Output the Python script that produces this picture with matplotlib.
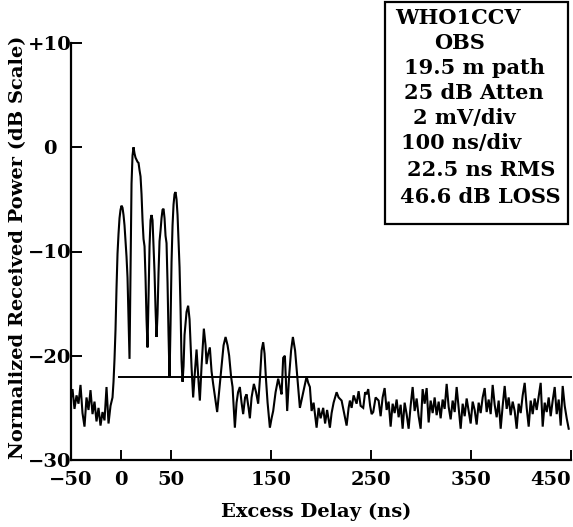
import matplotlib
matplotlib.use("Agg")
import matplotlib.pyplot as plt
from matplotlib.patches import Rectangle

plt.rcParams['font.family'] = ['DejaVu Serif']
plt.rcParams['font.weight'] = 'bold'

# Received power profile (excess delay in ns, normalized power in dB)
pre_delay = [-50, -48, -46, -44, -42, -40, -38, -36, -34, -32, -30, -28, -26,
             -24, -22, -20, -18, -16, -14, -12, -10]
pre_power = [-24.3, -23.2, -25.1, -23.8, -24.6, -22.8, -25.5, -26.8, -24.0,
             -25.2, -23.3, -25.6, -24.4, -26.3, -25.0, -26.7, -25.4, -26.2,
             -23.0, -26.5, -24.8]

main_delay = [-8, -7, -6, -5, -4, -3, -2, -1, 0, 1, 2, 3, 4, 5, 6, 7, 8, 9, 10,
              11, 12, 13, 14, 15, 16, 17, 18, 19, 20, 21, 22, 23, 24, 25, 26,
              27, 28, 29, 30, 31, 32, 33, 34, 35, 36, 37, 38, 39, 40, 41, 42,
              43, 44, 45, 46, 47, 48, 49, 50, 51, 52, 53, 54, 55, 56, 57, 58,
              59, 60, 61, 62]
main_power = [-24.0, -22.5, -20.3, -17.5, -13.5, -10.2, -8.3, -6.8, -6.0, -5.6,
              -5.8, -6.5, -7.5, -9.0, -10.5, -12.5, -16.5, -20.3, -12.0, -3.5,
              -0.8, 0.0, -0.6, -1.0, -1.2, -1.4, -1.5, -2.2, -2.8, -4.5, -7.0,
              -8.8, -9.5, -12.5, -16.5, -19.2, -14.5, -9.5, -7.0, -6.5, -7.0,
              -9.5, -12.0, -15.5, -18.2, -16.0, -12.0, -9.0, -8.0, -6.8, -6.0,
              -5.9, -6.8, -8.5, -9.2, -13.0, -18.0, -22.1, -17.0, -11.0, -7.5,
              -5.5, -4.5, -4.3, -5.0, -6.5, -9.0, -11.5, -15.5, -20.5, -22.5]

tail_delay = [63, 64, 66, 67.6, 69, 71, 72.6, 74, 76, 78, 79.3, 81, 83.3, 85,
              86, 87.6, 89.3, 91, 92.6, 94.5, 96.6, 99, 101, 103, 105, 107,
              108.6, 110.5, 112, 114.3, 116, 117.5, 119.3, 121, 122.6, 124.5,
              126, 128, 129.3, 131, 133.3, 135.5, 137.6, 139.5, 141, 142.6, 144,
              145.3, 147, 149.3, 151, 152.6, 155, 157.6, 159.5, 161, 162.6,
              164.3, 166.6, 168.5, 170.5, 172.3, 174.5, 176.6, 179.3, 181.5,
              184.3, 186, 187.6, 189.3, 191, 193, 196, 198, 200, 202.6, 204.5,
              206.5, 209.3, 211, 213, 216, 218, 221, 223.5, 226, 228, 229.3,
              231, 233, 236, 238, 240, 242.6, 244.5, 246, 247.6, 249.5, 251,
              252.6, 255]
tail_power = [-21.0, -18.0, -15.8, -15.2, -16.5, -21.1, -24.0, -22.0, -19.4,
              -22.5, -24.3, -21.0, -17.4, -19.0, -20.8, -19.8, -19.2, -21.5,
              -22.7, -24.0, -25.4, -23.0, -21.1, -19.0, -18.2, -19.0, -20.0,
              -22.0, -23.0, -26.9, -24.5, -23.5, -23.0, -24.5, -25.6, -24.0,
              -23.7, -25.0, -26.0, -24.0, -22.7, -23.5, -24.6, -22.0, -19.5,
              -18.7, -19.8, -22.1, -24.5, -26.9, -26.0, -25.3, -23.5, -22.2,
              -23.0, -23.7, -20.2, -20.0, -25.3, -22.0, -19.5, -18.2, -19.5,
              -21.9, -25.0, -24.0, -22.7, -22.0, -22.6, -23.0, -25.3, -24.5,
              -26.9, -25.0, -26.0, -25.0, -26.5, -25.2, -26.9, -25.5, -24.5,
              -23.5, -24.0, -24.3, -25.5, -26.7, -25.0, -24.3, -25.0, -23.8,
              -24.6, -23.4, -24.8, -25.0, -23.5, -23.7, -23.2, -24.8, -25.6,
              -25.4, -24.0]

floor_delay = list(range(258, 450, 2))
floor_power = [-24.3, -25.8, -24.0, -23.1, -25.2, -24.4, -26.8, -24.6, -25.5,
               -24.2, -25.9, -24.7, -27.0, -24.5, -25.6, -27.0, -24.8, -23.0,
               -25.3, -24.1, -25.8, -27.0, -23.2, -24.6, -23.1, -26.4, -24.3,
               -25.5, -24.0, -25.7, -24.4, -26.0, -24.2, -25.1, -22.7, -24.9,
               -26.1, -24.3, -25.4, -23.0, -25.0, -27.0, -24.6, -25.8, -24.1,
               -25.3, -26.5, -24.4, -25.2, -26.6, -24.5, -25.5, -24.0, -23.1,
               -25.4, -24.2, -25.6, -22.8, -24.7, -25.9, -24.3, -27.0, -24.8,
               -22.9, -25.1, -24.0, -25.7, -24.4, -25.3, -27.0, -24.6, -25.5,
               -23.8, -22.6, -25.0, -26.8, -24.3, -25.6, -24.1, -25.2, -23.9,
               -22.6, -26.8, -24.5, -25.4, -24.0, -25.8, -24.3, -23.0, -25.6,
               -24.2, -26.7, -22.9, -24.8, -26.0, -27.0]

threshold_db = -22.0
threshold_span = (-2, 450)

xtick_values = [-50, 0, 50, 150, 250, 350, 450]
xtick_labels = ['\u221250', '0', '50', '150', '250', '350', '450']
ytick_values = [10, 0, -10, -20, -30]
ytick_labels = ['+10', '0', '\u221210', '\u221220', '\u221230']

info_lines = ['WHO1CCV', 'OBS', '19.5 m path', '25 dB Atten', '2 mV/div',
              '100 ns/div', '22.5 ns RMS', '46.6 dB LOSS']
info_x = [458, 460, 474, 474, 464, 461, 481, 480]
info_y = [18, 43, 68, 93, 118, 143, 170, 197]

delay = pre_delay + main_delay + tail_delay + floor_delay
power = pre_power + main_power + tail_power + floor_power

W, H = 573, 527
fig = plt.figure(figsize=(W / 100, H / 100), dpi=100)
ax = fig.add_axes([70.5 / W, 1 - 460 / H, (571.7 - 70.5) / W, (460 - 43) / H])

ax.plot(delay, power, color='black', lw=1.5, solid_joinstyle='miter')
ax.plot(threshold_span, [threshold_db, threshold_db], color='black', lw=1.4)

ax.set_xlim(-50, 451)
ax.set_ylim(-30, 10)
for side in ('top', 'right'):
    ax.spines[side].set_visible(False)
for side in ('left', 'bottom'):
    ax.spines[side].set_linewidth(1.6)
ax.spines['bottom'].set_bounds(-50, 450)

ax.set_xticks(xtick_values)
ax.set_xticklabels(xtick_labels)
ax.set_yticks(ytick_values)
ax.set_yticklabels(ytick_labels)
ax.tick_params(axis='both', direction='in', width=1.4, labelsize=14)
ax.tick_params(axis='y', length=8, pad=15)
ax.tick_params(axis='x', length=7, pad=8)
for lbl in ax.get_yticklabels():
    lbl.set_horizontalalignment('center')
ax.get_xticklabels()[-1].set_horizontalalignment('right')

fig.text(316.5 / W, 1 - 512 / H, 'Excess Delay (ns)', ha='center',
         va='center', fontsize=14, fontweight='bold')
fig.text(18 / W, 1 - 247 / H, 'Normalized Received Power (dB Scale)',
         ha='center', va='center', rotation=90, fontsize=14,
         fontweight='bold')

box = Rectangle((385 / W, 1 - 224 / H), (568 - 385) / W, (224 - 2) / H,
                transform=fig.transFigure, fill=False, ec='black', lw=1.6)
fig.add_artist(box)
for line, xc, yc in zip(info_lines, info_x, info_y):
    fig.text(xc / W, 1 - yc / H, line, ha='center',
             va='center', fontsize=15, fontweight='bold')

fig.savefig('out.png', dpi=100)
